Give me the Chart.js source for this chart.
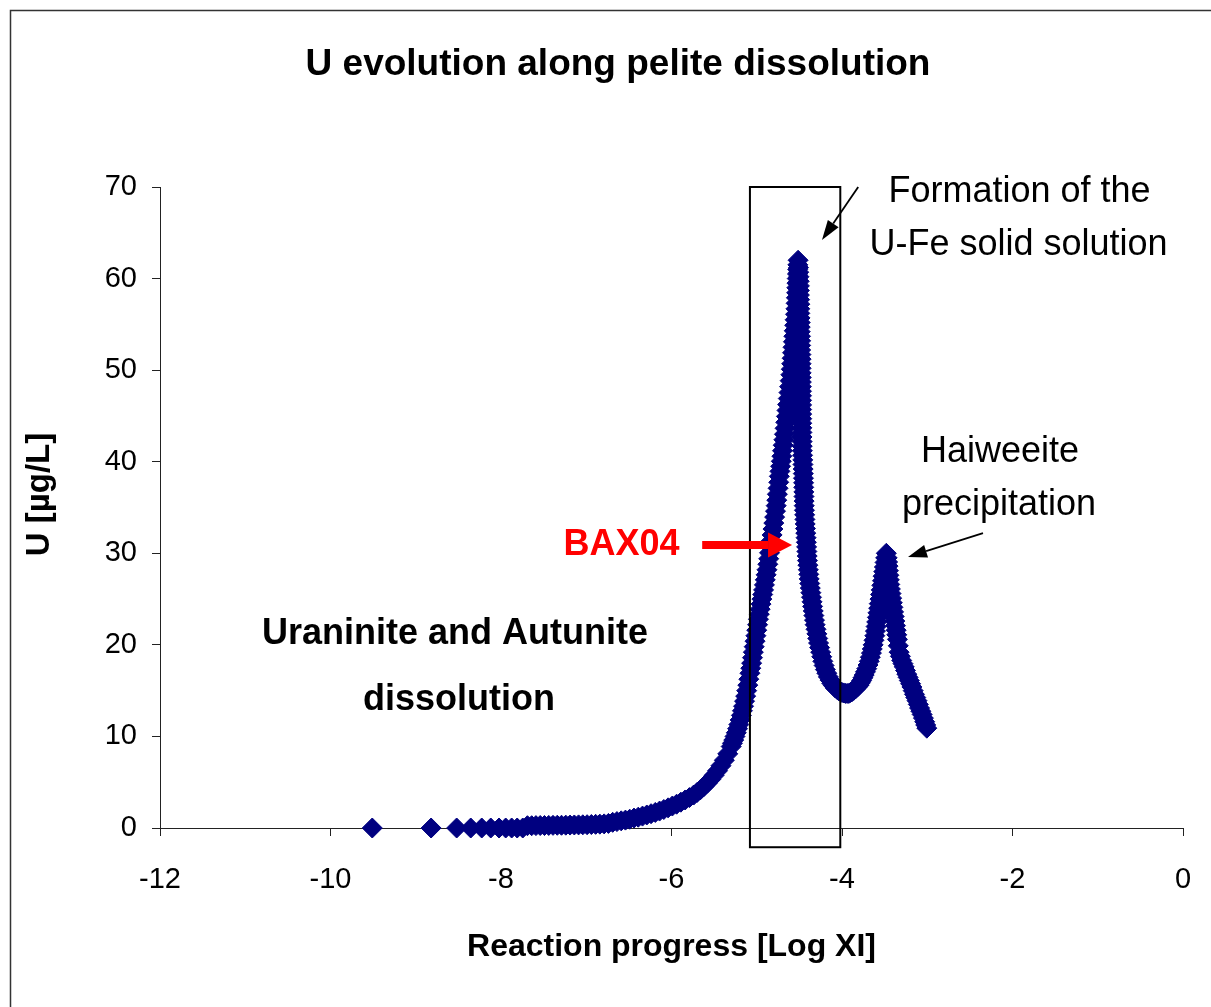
<!DOCTYPE html>
<html><head><meta charset="utf-8">
<script src="https://cdn.jsdelivr.net/npm/chart.js@4/dist/chart.umd.min.js"></script>
<style>html,body{margin:0;padding:0;background:#fff;overflow:hidden}canvas{display:block}</style>
</head><body>
<canvas id="c" width="1211" height="1007"></canvas>
<script>
const chartTitle = 'U evolution along pelite dissolution';
const xAxisTitle = 'Reaction progress [Log XI]';
const yAxisTitle = 'U [µg/L]';
const xTicks = [-12, -10, -8, -6, -4, -2, 0];
const yTicks = [0, 10, 20, 30, 40, 50, 60, 70];

// Reaction progress (log XI)
const logXi = [
  // low-progress tail
  -9.51, -8.82, -8.52, -8.355, -8.226, -8.12, -8.023, -7.945, -7.875, -7.81, -7.745,
  -7.69, -7.64, -7.59, -7.54, -7.49, -7.44, -7.39, -7.34, -7.29, -7.24, -7.19, -7.14, -7.09, -7.04, -6.99,
  -6.94, -6.89, -6.84, -6.79, -6.74, -6.69, -6.64, -6.59, -6.54, -6.49, -6.44, -6.39, -6.34, -6.29, -6.24,
  -6.19, -6.14, -6.09, -6.04, -5.99, -5.94, -5.89, -5.84, -5.79, -5.74, -5.70, -5.66, -5.62, -5.58, -5.54,
  -5.50, -5.46, -5.42, -5.38, -5.34,
  // rise to main peak
  -5.30, -5.285, -5.27, -5.255, -5.24, -5.225, -5.21, -5.195, -5.18, -5.168, -5.155, -5.143, -5.13, -5.118,
  -5.105, -5.093, -5.08, -5.07, -5.06, -5.05, -5.04, -5.03, -5.02, -5.01, -5.00, -4.99, -4.98, -4.97, -4.96,
  -4.95, -4.94, -4.93, -4.92, -4.91, -4.90, -4.89, -4.88, -4.87, -4.86, -4.85, -4.84, -4.83, -4.82, -4.81,
  -4.80, -4.79, -4.78, -4.772, -4.765, -4.758, -4.75, -4.742, -4.735, -4.728, -4.72, -4.712, -4.705, -4.698,
  -4.69, -4.682, -4.675, -4.668, -4.66, -4.652, -4.645, -4.638, -4.63, -4.622, -4.615, -4.608, -4.60, -4.595,
  -4.59, -4.585, -4.58, -4.575, -4.57, -4.565, -4.56, -4.555, -4.55, -4.545, -4.54, -4.538, -4.535, -4.532,
  -4.53, -4.528, -4.525, -4.522, -4.52, -4.518, -4.515,
  // fall from main peak
  -4.51, -4.508, -4.505, -4.502, -4.50, -4.50, -4.50, -4.497, -4.495, -4.495, -4.495, -4.492, -4.49, -4.49,
  -4.49, -4.487, -4.485, -4.485, -4.485, -4.482, -4.48, -4.48, -4.48, -4.479, -4.478, -4.477, -4.476, -4.4755,
  -4.475, -4.4745, -4.474, -4.4735, -4.473, -4.4725, -4.472, -4.471, -4.47, -4.469, -4.468, -4.4665, -4.465,
  -4.4625, -4.46, -4.458, -4.456, -4.454, -4.452, -4.4505, -4.449, -4.4475, -4.446, -4.4445, -4.443, -4.4405,
  -4.438, -4.435, -4.432, -4.4285, -4.425, -4.4215, -4.418, -4.415, -4.412, -4.4085, -4.405, -4.40, -4.395,
  -4.39, -4.385, -4.3785, -4.372, -4.365, -4.358, -4.3515, -4.345, -4.3375, -4.33, -4.3225, -4.315, -4.305,
  -4.295, -4.285, -4.275, -4.2625, -4.25, -4.2375, -4.225, -4.21, -4.195, -4.178, -4.16, -4.14, -4.12, -4.10,
  -4.08, -4.06, -4.04, -4.02, -4.00, -3.98, -3.96, -3.94, -3.92, -3.90, -3.88, -3.86, -3.84, -3.82,
  // rise to second peak
  -3.80, -3.785, -3.77, -3.755, -3.74, -3.725, -3.71, -3.695, -3.68, -3.668, -3.655, -3.645, -3.635, -3.625,
  -3.615, -3.608, -3.60, -3.593, -3.585, -3.578, -3.57, -3.563, -3.555, -3.548, -3.54, -3.533, -3.525, -3.518,
  -3.51, -3.503, -3.495, -3.488, -3.48,
  // fall from second peak
  -3.47, -3.465, -3.46, -3.455, -3.45, -3.445, -3.44, -3.4325, -3.425, -3.4175, -3.41, -3.4025, -3.395,
  -3.3875, -3.38, -3.3725, -3.365, -3.3575, -3.35, -3.34, -3.33, -3.315, -3.30, -3.285, -3.27, -3.255, -3.24,
  -3.225, -3.21, -3.195, -3.18, -3.165, -3.15, -3.135, -3.12, -3.105, -3.09, -3.075, -3.06, -3.045, -3.03,
  -3.018, -3.005
];
// U concentration (µg/L)
const uConc = [
  0, 0, 0, 0, 0, 0, 0, 0, 0, 0, 0,
  0.25, 0.25, 0.26, 0.27, 0.27, 0.28, 0.29, 0.30, 0.30, 0.31, 0.32, 0.33, 0.34, 0.35, 0.36,
  0.38, 0.40, 0.42, 0.45, 0.50, 0.62, 0.70, 0.78, 0.86, 0.96, 1.08, 1.18, 1.30, 1.42, 1.56,
  1.70, 1.85, 2.02, 2.20, 2.40, 2.60, 2.82, 3.06, 3.32, 3.60, 3.88, 4.18, 4.52, 4.90, 5.30,
  5.75, 6.25, 6.80, 7.40, 8.10,
  8.9, 9.25, 9.6, 10.0, 10.4, 10.85, 11.3, 11.8, 12.3, 12.8, 13.3, 13.85, 14.4, 15.0,
  15.6, 16.25, 16.9, 17.45, 18.0, 18.6, 19.2, 19.8, 20.4, 21.0, 21.6, 22.2, 22.8, 23.35, 23.9,
  24.45, 25.0, 25.5, 26.0, 26.55, 27.1, 27.65, 28.2, 28.8, 29.4, 30.05, 30.7, 31.35, 32.0, 32.65,
  33.3, 33.95, 34.6, 35.2, 35.8, 36.45, 37.1, 37.75, 38.4, 38.95, 39.5, 40.05, 40.6, 41.2,
  41.8, 42.4, 43.0, 43.65, 44.3, 44.95, 45.6, 46.25, 46.9, 47.55, 48.2, 48.85, 49.5, 50.1,
  50.7, 51.3, 51.9, 52.5, 53.1, 53.7, 54.3, 54.9, 55.5, 56.1, 56.7, 57.3, 57.9, 58.45,
  59.0, 59.5, 60.0, 60.5, 61.0, 61.5, 62.0,
  61.2, 60.7, 60.2, 59.7, 59.2, 58.7, 58.2, 57.7, 57.2, 56.7, 56.2, 55.7, 55.2, 54.7,
  54.2, 53.7, 53.2, 52.7, 52.2, 51.7, 51.2, 50.7, 50.2, 49.7, 49.2, 48.7, 48.2, 47.7,
  47.2, 46.7, 46.2, 45.7, 45.2, 44.7, 44.2, 43.7, 43.2, 42.7, 42.2, 41.7, 41.2,
  40.7, 40.2, 39.7, 39.2, 38.7, 38.2, 37.7, 37.2, 36.7, 36.2, 35.7, 35.2, 34.7,
  34.2, 33.7, 33.2, 32.7, 32.2, 31.7, 31.2, 30.7, 30.2, 29.7, 29.2, 28.7, 28.2,
  27.7, 27.2, 26.7, 26.2, 25.7, 25.2, 24.7, 24.2, 23.7, 23.2, 22.7, 22.2, 21.7,
  21.2, 20.7, 20.2, 19.7, 19.2, 18.7, 18.2, 17.75, 17.3, 16.9, 16.5, 16.15, 15.8, 15.55,
  15.3, 15.15, 15.0, 14.9, 14.8, 14.75, 14.7, 14.7, 14.7, 14.8, 14.9, 15.05, 15.2, 15.4,
  15.6, 15.85, 16.1, 16.4, 16.7, 17.05, 17.4, 17.8, 18.2, 18.65, 19.1, 19.55, 20.0, 20.5,
  21.0, 21.5, 22.0, 22.5, 23.0, 23.5, 24.0, 24.5, 25.0, 25.5, 26.0, 26.5, 27.0, 27.5,
  28.0, 28.5, 29.0, 29.5, 30.0,
  29.5, 29.05, 28.6, 28.1, 27.6, 27.1, 26.6, 26.1, 25.6, 25.1, 24.6, 24.1, 23.6,
  23.1, 22.6, 22.1, 21.6, 21.1, 20.6, 19.9, 19.2, 18.75, 18.3, 17.95, 17.6, 17.2, 16.8,
  16.45, 16.1, 15.75, 15.4, 15.0, 14.6, 14.25, 13.9, 13.5, 13.1, 12.75, 12.4, 12.0, 11.6,
  11.25, 10.9
];

// Annotations (data coordinates)
const boxLogXi = [-5.08, -4.02];
const boxU = [-2.1, 70];
const arrowFormation = [-3.81, 70.0, -4.235, 64.2];
const arrowHaiweeite = [-2.346, 32.2, -3.226, 29.6];
const arrowBax = [-5.64, 30.9, -4.586, 30.9];
const noteFormation = ['Formation of the', 'U-Fe solid solution'];
const noteFormationPos = [[-1.918, 69.45], [-1.930, 63.66]];
const noteHaiweeite = ['Haiweeite', 'precipitation'];
const noteHaiweeitePos = [[-2.147, 41.06], [-2.158, 35.27]];
const noteBax = 'BAX04';
const noteBaxPos = [-6.587, 30.9];
const noteDissolution = ['Uraninite and Autunite', 'dissolution'];
const noteDissolutionPos = [[-8.54, 21.19], [-8.493, 13.98]];

const FONT = '"Liberation Sans", Arial, Helvetica, sans-serif';
const NAVY = '#000080';

function drawArrow(ctx, x1, y1, x2, y2, color, lw, headLen, headW) {
  const a = Math.atan2(y2 - y1, x2 - x1);
  const bx = x2 - headLen * Math.cos(a), by = y2 - headLen * Math.sin(a);
  ctx.strokeStyle = color; ctx.lineWidth = lw;
  ctx.beginPath(); ctx.moveTo(x1, y1); ctx.lineTo(bx, by); ctx.stroke();
  ctx.fillStyle = color; ctx.beginPath();
  ctx.moveTo(x2, y2);
  ctx.lineTo(bx + headW / 2 * Math.sin(a), by - headW / 2 * Math.cos(a));
  ctx.lineTo(bx - headW / 2 * Math.sin(a), by + headW / 2 * Math.cos(a));
  ctx.closePath(); ctx.fill();
}

const annotations = {
  id: 'annotations',
  beforeDraw(chart) {
    const ctx = chart.ctx;
    ctx.save();
    ctx.fillStyle = '#fff';
    ctx.fillRect(0, 0, chart.width, chart.height);
    ctx.strokeStyle = '#333';
    ctx.lineWidth = 1.5;
    ctx.strokeRect(10.5, 10.5, chart.width + 40, chart.height + 40);
    ctx.restore();
  },
  afterDraw(chart) {
    // y-axis title, centred on the plotted region as in the reference
    const ctx = chart.ctx;
    const ys = chart.scales.y;
    ctx.save();
    ctx.translate(40, (ys.top + ys.bottom) / 2 - 13);
    ctx.rotate(-Math.PI / 2);
    ctx.textAlign = 'center'; ctx.textBaseline = 'middle';
    ctx.fillStyle = '#000';
    ctx.font = 'bold 33px ' + FONT;
    ctx.fillText(yAxisTitle, 0, 0);
    ctx.restore();
  },
  afterDatasetsDraw(chart) {
    const ctx = chart.ctx;
    const xs = chart.scales.x, ys = chart.scales.y;
    const px = v => xs.getPixelForValue(v), py = v => ys.getPixelForValue(v);
    ctx.save();
    ctx.strokeStyle = '#000'; ctx.lineWidth = 2;
    ctx.strokeRect(px(boxLogXi[0]), py(boxU[1]), px(boxLogXi[1]) - px(boxLogXi[0]), py(boxU[0]) - py(boxU[1]));
    drawArrow(ctx, px(arrowFormation[0]), py(arrowFormation[1]), px(arrowFormation[2]), py(arrowFormation[3]), '#000', 1.8, 20, 13);
    drawArrow(ctx, px(arrowHaiweeite[0]), py(arrowHaiweeite[1]), px(arrowHaiweeite[2]), py(arrowHaiweeite[3]), '#000', 1.8, 19, 13);
    drawArrow(ctx, px(arrowBax[0]), py(arrowBax[1]), px(arrowBax[2]), py(arrowBax[3]), '#ff0000', 8, 24, 25);
    ctx.textAlign = 'center'; ctx.textBaseline = 'middle';
    ctx.fillStyle = '#000';
    ctx.font = '36px ' + FONT;
    noteFormation.forEach((t, i) => ctx.fillText(t, px(noteFormationPos[i][0]), py(noteFormationPos[i][1])));
    noteHaiweeite.forEach((t, i) => ctx.fillText(t, px(noteHaiweeitePos[i][0]), py(noteHaiweeitePos[i][1])));
    ctx.font = 'bold 36px ' + FONT;
    noteDissolution.forEach((t, i) => ctx.fillText(t, px(noteDissolutionPos[i][0]), py(noteDissolutionPos[i][1])));
    ctx.fillStyle = '#ff0000';
    ctx.fillText(noteBax, px(noteBaxPos[0]), py(noteBaxPos[1]));
    ctx.restore();
  }
};

new Chart(document.getElementById('c'), {
  type: 'scatter',
  data: {
    datasets: [{
      data: logXi.map((x, i) => ({ x: x, y: uConc[i] })),
      pointStyle: 'rectRot',
      pointRadius: 10,
      pointBorderWidth: 1,
      backgroundColor: NAVY,
      borderColor: NAVY,
      clip: false
    }]
  },
  options: {
    responsive: false,
    animation: false,
    devicePixelRatio: 1,
    layout: { padding: { left: 53, right: 28, top: 0, bottom: 0 } },
    plugins: {
      legend: { display: false },
      tooltip: { enabled: false },
      title: {
        display: true, text: chartTitle, color: '#000',
        font: { family: FONT, size: 37, weight: 'bold', lineHeight: 1.2 },
        padding: { top: 43, bottom: 99.6 }
      }
    },
    scales: {
      x: {
        type: 'linear',
        min: xTicks[0], max: xTicks[xTicks.length - 1],
        ticks: { stepSize: xTicks[1] - xTicks[0], color: '#000', font: { family: FONT, size: 29 }, padding: 27, maxRotation: 0 },
        grid: { drawOnChartArea: false, drawTicks: true, tickLength: 8, color: '#222', lineWidth: 1 },
        border: { display: true, color: '#222', width: 1 },
        title: { display: true, text: xAxisTitle, color: '#000', font: { family: FONT, size: 32, weight: 'bold', lineHeight: 1.2 }, padding: { top: 0, bottom: 41 } },
        afterFit(s) { s.height = 179; s.paddingLeft = 0; s.paddingRight = 0; }
      },
      y: {
        type: 'linear',
        min: yTicks[0], max: yTicks[yTicks.length - 1],
        ticks: { stepSize: yTicks[1] - yTicks[0], color: '#000', font: { family: FONT, size: 29 }, padding: 15 },
        grid: { drawOnChartArea: false, drawTicks: true, tickLength: 8, color: '#222', lineWidth: 1 },
        border: { display: true, color: '#222', width: 1 },
        title: { display: false, text: yAxisTitle },
        afterFit(s) { s.width = 107; s.paddingTop = 0; s.paddingBottom = 0; }
      }
    }
  },
  plugins: [annotations]
});
</script>
</body></html>
